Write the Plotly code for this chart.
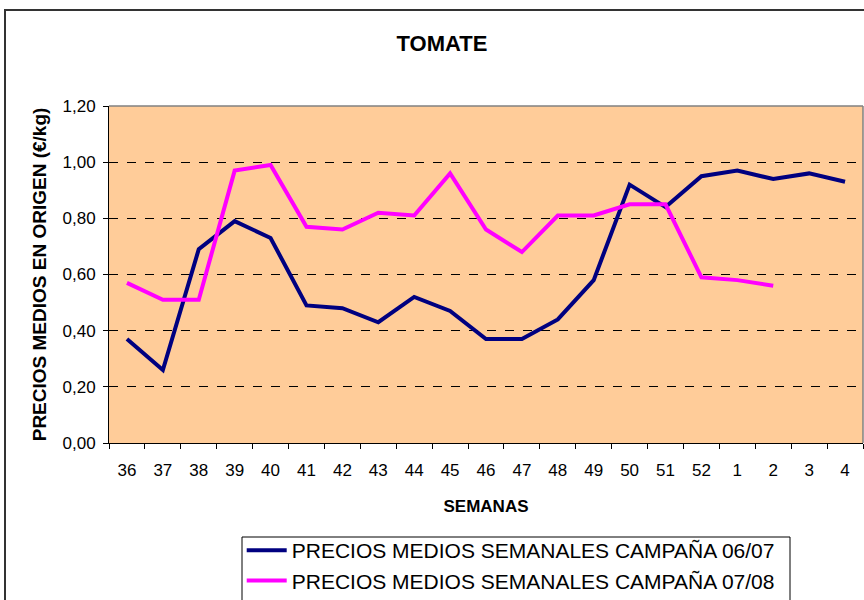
import plotly.graph_objects as go

semanas = ["36", "37", "38", "39", "40", "41", "42", "43", "44", "45", "46",
           "47", "48", "49", "50", "51", "52", "1", "2", "3", "4"]
campana_0607 = [0.37, 0.26, 0.69, 0.79, 0.73, 0.49, 0.48, 0.43, 0.52, 0.47, 0.37,
                0.37, 0.44, 0.58, 0.92, 0.84, 0.95, 0.97, 0.94, 0.96, 0.93]
campana_0708 = [0.57, 0.51, 0.51, 0.97, 0.99, 0.77, 0.76, 0.82, 0.81, 0.96, 0.76,
                0.68, 0.81, 0.81, 0.85, 0.85, 0.59, 0.58, 0.56, None, None]
y_ticks = [0, 0.2, 0.4, 0.6, 0.8, 1.0, 1.2]

FONT = "Liberation Sans, Arial, sans-serif"

fig = go.Figure()
fig.add_trace(go.Scatter(x=semanas, y=campana_0607, mode="lines",
                         name="PRECIOS MEDIOS SEMANALES CAMPAÑA 06/07",
                         line=dict(color="#000080", width=4)))
fig.add_trace(go.Scatter(x=semanas, y=campana_0708, mode="lines",
                         name="PRECIOS MEDIOS SEMANALES CAMPAÑA 07/08",
                         line=dict(color="#FF00FF", width=4)))

fig.update_layout(
    width=864, height=600,
    margin=dict(l=109, r=1, t=106, b=157, autoexpand=False),
    paper_bgcolor="white",
    plot_bgcolor="#FFCC99",
    separators=",.",
    font=dict(family=FONT, size=17, color="black"),
    title=dict(text="<b>TOMATE</b>", x=442 / 864, xref="container", y=0.928,
               yanchor="middle", xanchor="center",
               font=dict(size=22, family=FONT, color="black")),
    showlegend=True,
    legend=dict(x=0.176, y=(443 - 530) / 337, xanchor="left", yanchor="top",
                borderwidth=0, bgcolor="rgba(0,0,0,0)",
                font=dict(size=21, family=FONT, color="black"),
                tracegroupgap=0, itemwidth=40),
)

fig.update_xaxes(
    type="category", tickson="boundaries", ticks="outside", ticklen=5,
    tickcolor="black", showline=True, linecolor="black", linewidth=1,
    showgrid=False, tickfont=dict(size=17, family=FONT), ticklabelstandoff=12,
    title=dict(text="<b>SEMANAS</b>", font=dict(size=17, family=FONT), standoff=20),
    range=[-0.5, len(semanas) - 0.5],
)
fig.update_yaxes(
    range=[0, 1.2], tickvals=y_ticks, tickformat=".2f",
    ticks="outside", ticklen=5, tickcolor="black",
    showline=True, linecolor="black", linewidth=1,
    showgrid=True, gridcolor="black", gridwidth=1, griddash="dash",
    zeroline=False, tickfont=dict(size=17, family=FONT), ticklabelstandoff=4,
    title=dict(text="<b>PRECIOS MEDIOS EN ORIGEN (€/kg)</b>",
               font=dict(size=19, family=FONT), standoff=10),
)

# grey top/right frame of plot area
fig.add_shape(type="line", xref="paper", yref="paper", x0=0, x1=1, y0=1, y1=1,
              line=dict(color="#808080", width=1.5))
fig.add_shape(type="line", xref="paper", yref="paper", x0=1, x1=1, y0=0, y1=1,
              line=dict(color="#808080", width=1.5))
# outer chart border
fig.add_shape(type="rect", xref="paper", yref="paper",
              x0=(5 - 109) / 754, x1=1.2, y0=(443 - 10) / 337, y1=-0.6,
              line=dict(color="#333333", width=2), fillcolor="rgba(0,0,0,0)")
# legend box
fig.add_shape(type="rect", xref="paper", yref="paper",
              x0=(242 - 109) / 754, x1=(790 - 109) / 754,
              y0=(443 - 537) / 337, y1=-0.6,
              line=dict(color="black", width=1), fillcolor="rgba(0,0,0,0)")

fig.write_html("out.html", config={"displayModeBar": False},
               post_script="document.body.style.margin='0';")
